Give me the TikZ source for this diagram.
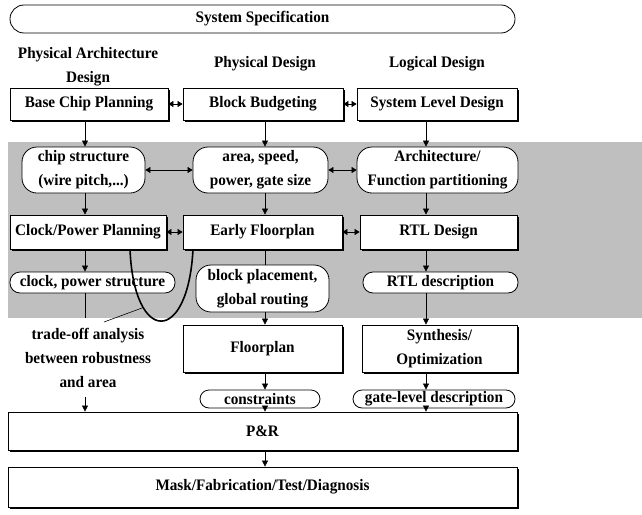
\documentclass[tikz,border=0pt]{standalone}
\usepackage{fontspec}
\setmainfont{Liberation Serif}[FakeStretch=0.95]
\usetikzlibrary{arrows.meta,shadows}
\begin{document}
\begin{tikzpicture}[x=1pt,y=-1pt,
  txt/.style={font=\fontsize{16}{24}\selectfont\bfseries, align=center},
  sbox/.style={txt, draw, fill=white, line width=0.8pt, inner sep=0pt,
    general shadow={fill=black, shadow xshift=1.8pt, shadow yshift=-1.8pt}},
  rbox/.style={txt, draw, fill=white, line width=0.8pt, inner sep=0pt, rounded corners=#1},
  rbox/.default=10pt,
  arr/.style={-{Triangle[length=6pt,width=6pt]}, line width=0.6pt},
  darr/.style={{Triangle[length=5pt,width=6pt]}-{Triangle[length=5pt,width=6pt]}, line width=0.6pt},
]
\useasboundingbox (0,0) rectangle (642,514);
\fill[gray!50] (8,142) rectangle (642,318);

\coordinate (colL) at (85,0);
\coordinate (colM) at (265,0);
\coordinate (colR) at (426,0);

\node[rbox=14pt, minimum width=505pt, minimum height=28pt] (spec) at (262.5,19) {System Specification};
\node[txt] (h1) at (88,67) {Physical Architecture\\Design};
\node[txt] (h2) at (265,64) {Physical Design};
\node[txt] (h3) at (437,64) {Logical Design};

\node[sbox, minimum width=158pt, minimum height=32pt] (bcp) at (89,104) {Base Chip Planning};
\node[sbox, minimum width=160pt, minimum height=32pt] (bb) at (263,104) {Block Budgeting};
\node[sbox, minimum width=160pt, minimum height=32pt] (sld) at (437,104) {System Level Design};

\node[rbox=15pt, minimum width=123pt, minimum height=46pt] (cs) at (83.5,170) {chip structure\\(wire pitch,...)};
\node[rbox=15pt, minimum width=135pt, minimum height=46pt] (asp) at (260.5,170) {area, speed,\\power, gate size};
\node[rbox=15pt, minimum width=161pt, minimum height=46pt] (afp) at (437.5,170) {Architecture/\\Function partitioning};

\node[sbox, minimum width=156pt, minimum height=34pt] (cpp) at (88,232) {Clock/Power Planning};
\node[sbox, minimum width=159pt, minimum height=34pt] (ef) at (262.5,232) {Early Floorplan};
\node[sbox, minimum width=157pt, minimum height=34pt] (rtl) at (438.5,232) {RTL Design};

\node[rbox=10pt, minimum width=165pt, minimum height=21pt] (cps) at (92.5,282.5) {clock, power structure};
\node[rbox=15pt, minimum width=133pt, minimum height=47pt] (bp) at (262.5,288.5) {block placement,\\global routing};
\node[rbox=10pt, minimum width=155pt, minimum height=21pt] (rtld) at (440.5,282.5) {RTL description};

\node[txt] (to) at (88,358) {trade-off analysis\\between robustness\\and area};

\node[sbox, minimum width=159pt, minimum height=47pt] (fp) at (262.5,348.5) {Floorplan};
\node[sbox, minimum width=155pt, minimum height=47pt] (syn) at (439.5,348.5) {Synthesis/\\Optimization};

\node[rbox=9pt, minimum width=120pt, minimum height=18pt] (con) at (260,399) {constraints};
\node[rbox=9pt, minimum width=162pt, minimum height=18pt] (gld) at (434,399) {gate-level description};

\node[sbox, minimum width=509pt, minimum height=38pt] (pr) at (262.5,431) {P\&R};
\node[sbox, minimum width=509pt, minimum height=40pt] (mask) at (262.5,487) {Mask/Fabrication/Test/Diagnosis};

% horizontal double arrows
\draw[darr] (bcp.east) -- (bb.west);
\draw[darr] (bb.east) -- (sld.west);
\draw[darr] (cs.east) -- (asp.west);
\draw[darr] (asp.east) -- (afp.west);
\draw[darr] (cpp.east) -- (ef.west);
\draw[darr] (ef.east) -- (rtl.west);

% vertical arrows
\draw[arr] (bcp.south -| colL) -- (cs.north -| colL);
\draw[arr] (bb.south -| colM) -- (asp.north -| colM);
\draw[arr] (sld.south -| colR) -- (afp.north -| colR);
\draw[arr] (cs.south -| colL) -- (cpp.north -| colL);
\draw[arr] (asp.south -| colM) -- (ef.north -| colM);
\draw[arr] (afp.south -| colR) -- (rtl.north -| colR);
\draw[arr] (cpp.south -| colL) -- (cps.north -| colL);
\draw[line width=0.6pt] (ef.south -| colM) -- (bp.north -| colM);
\draw[arr] (rtl.south -| colR) -- (rtld.north -| colR);
\draw[arr] (bp.south -| colM) -- (fp.north -| colM);
\draw[arr] (rtld.south -| colR) -- (syn.north -| colR);
\draw[arr] (fp.south -| colM) -- (con.north -| colM);
\draw[arr] (syn.south -| colR) -- (gld.north -| colR);
\draw[arr] (con.south -| colM) -- (pr.north -| colM);
\draw[arr] (gld.south -| colR) -- (pr.north -| colR);
\draw[arr] (pr.south -| colM) -- (mask.north -| colM);

\coordinate (cpsEnd) at (85,318);
\draw[line width=0.6pt] (cps.south -| colL) -- (cpsEnd);
\coordinate (prIn) at (85,397);
\draw[arr] (prIn) -- (pr.north -| prIn);

% trade-off curve
\coordinate (cvL) at (130,0);
\coordinate (cvR) at (193,0);
\draw[line width=1.6pt] (cpp.south -| cvL) .. controls (134,345) and (188,345) .. (ef.south -| cvR);
\coordinate (tip) at (142,308);
\coordinate (tp) at (104,322);
\draw[line width=0.6pt] (tp) -- (tip);
\end{tikzpicture}
\end{document}
